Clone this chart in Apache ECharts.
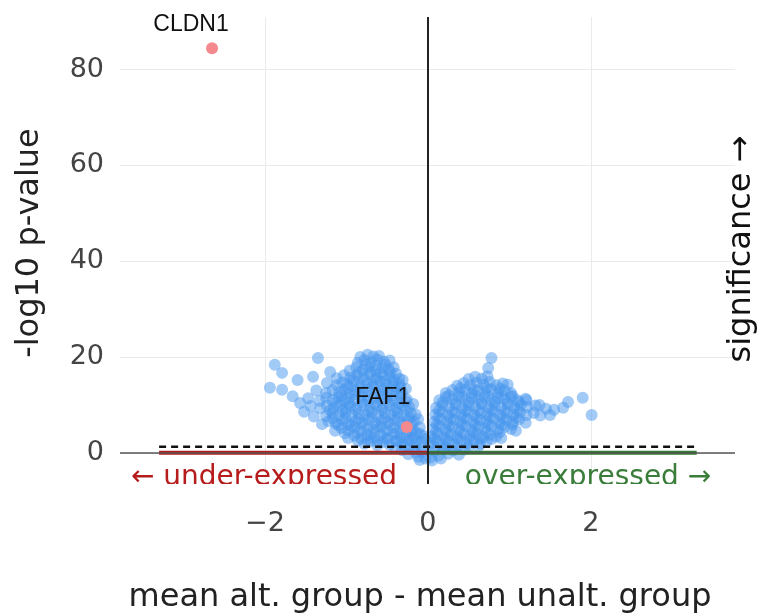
<!DOCTYPE html>
<html>
<head>
<meta charset="utf-8">
<script src="https://cdn.jsdelivr.net/npm/echarts@6/dist/echarts.min.js"></script>
<style>
  html, body { margin: 0; padding: 0; background: #fff; }
  #chart { width: 759px; height: 614px; }
</style>
</head>
<body>
<div id="chart"></div>
<script>
// axes
const xTicks = [-2, 0, 2];
const yTicks = [0, 20, 40, 60, 80];
const xRange = [-3.78, 3.77];
const yRange = [-6.5, 91];

// -log10(0.05) threshold and reach of the coloured guide lines
const threshold = 1.3;
const guideSpan = [-3.3, 3.3];

// highlighted genes
const hitGenes = ['CLDN1', 'FAF1'];
const hitX = [-2.65, -0.26];
const hitY = [84.5, 5.4];

// remaining genes, left of zero: [mean diff, -log10 p]
const leftGenes = [
  [-0.32,0.6],[-0.24,-0.3],[-0.18,0.9],[-0.12,-0.8],[-0.07,0.2],[-0.03,-1.2],[-0.28,1.4],[-0.15,0.1],[-0.05,1.1],[-0.40,1.0],[-0.10,-1.5],
  [-0.78,1.9],[-0.70,2.4],[-0.62,1.6],[-0.55,2.2],[-0.47,1.7],[-0.39,2.5],[-0.31,1.9],[-0.23,2.6],[-0.16,1.8],[-0.08,2.3],[-0.03,2.9],
  [-0.86,2.6],[-0.74,2.7],[-0.62,2.5],[-0.50,2.8],[-0.38,2.6],[-0.26,2.9],[-0.14,2.7],
  [-0.98,3.1],[-0.90,3.6],[-0.82,3.0],[-0.74,3.8],[-0.66,3.2],[-0.58,3.7],[-0.50,3.1],[-0.42,3.9],[-0.34,3.3],[-0.26,3.8],[-0.18,3.2],[-0.10,4.0],[-0.05,3.5],
  [-1.02,4.1],[-0.86,4.2],[-0.70,4.0],[-0.54,4.3],[-0.38,4.1],[-0.22,4.4],[-0.14,4.1],
  [-1.14,4.6],[-1.06,5.2],[-0.98,4.7],[-0.90,5.3],[-0.82,4.6],[-0.74,5.1],[-0.66,4.8],[-0.58,5.4],[-0.50,4.7],[-0.42,5.2],[-0.34,4.9],[-0.26,5.5],[-0.18,4.8],[-0.10,5.3],
  [-1.10,5.8],[-0.94,5.6],[-0.78,5.9],[-0.62,5.6],[-0.46,5.9],[-0.30,5.7],[-0.20,6.0],
  [-1.30,6.0],[-1.22,6.6],[-1.13,6.2],[-1.05,6.8],[-0.97,6.1],[-0.89,6.6],[-0.81,6.3],[-0.73,6.9],[-0.65,6.2],[-0.57,6.7],[-0.49,6.4],[-0.41,6.9],[-0.33,6.3],[-0.25,6.8],[-0.17,6.5],[-0.12,7.0],
  [-1.17,7.2],[-1.01,7.3],[-0.85,7.1],[-0.69,7.4],[-0.53,7.2],[-0.37,7.4],[-0.23,7.3],
  [-1.40,7.6],[-1.25,7.7],[-1.17,8.3],[-1.09,7.8],[-1.01,8.4],[-0.93,7.7],[-0.85,8.2],[-0.77,7.9],[-0.69,8.5],[-0.61,7.8],[-0.53,8.3],[-0.45,7.9],[-0.37,8.4],[-0.29,7.8],[-0.21,8.3],[-0.15,8.0],
  [-1.20,8.9],[-1.05,8.8],[-0.89,9.0],[-0.73,8.7],[-0.57,9.0],[-0.41,8.8],[-0.27,9.1],
  [-1.44,9.8],[-1.32,9.3],[-1.24,9.9],[-1.16,9.4],[-1.08,10.0],[-1.01,9.3],[-0.95,9.8],[-0.87,9.5],[-0.79,10.1],[-0.71,9.4],[-0.63,9.9],[-0.55,9.5],[-0.47,10.0],[-0.39,9.4],[-0.31,9.9],[-0.23,9.6],[-0.18,10.2],
  [-1.12,10.5],[-0.97,10.4],[-0.81,10.6],[-0.65,10.3],[-0.49,10.6],[-0.35,10.4],[-0.27,10.7],
  [-1.47,11.4],[-1.33,10.9],[-1.25,11.5],[-1.17,11.0],[-1.10,11.6],[-1.03,10.9],[-0.97,11.4],[-0.90,11.1],[-0.82,11.7],[-0.74,11.0],[-0.66,11.5],[-0.58,11.1],[-0.50,11.6],[-0.42,11.0],[-0.34,11.5],[-0.26,11.2],
  [-1.06,12.0],[-0.90,12.2],[-0.74,11.9],[-0.58,12.2],[-0.44,12.0],[-0.34,12.3],
  [-1.37,13.0],[-1.25,12.5],[-1.17,13.1],[-1.09,12.6],[-1.02,13.2],[-0.96,12.5],[-0.88,13.0],[-0.80,12.7],[-0.72,13.3],[-0.64,12.6],[-0.56,13.1],[-0.48,12.7],[-0.40,13.2],[-0.32,12.6],[-0.27,13.4],
  [-0.98,13.7],[-0.84,13.5],[-0.68,13.8],[-0.54,13.6],[-0.42,13.9],[-0.34,13.7],
  [-1.24,14.6],[-1.12,14.1],[-1.05,14.7],[-0.99,14.2],[-0.91,14.8],[-0.83,14.1],[-0.75,14.6],[-0.67,14.3],[-0.59,14.9],[-0.51,14.2],[-0.43,14.7],[-0.35,14.4],[-0.31,15.2],
  [-0.92,15.2],[-0.78,15.1],[-0.64,15.3],[-0.52,15.0],[-0.42,15.3],
  [-1.12,15.6],[-1.03,16.2],[-0.95,15.7],[-0.87,16.3],[-0.79,15.8],[-0.71,16.4],[-0.63,15.7],[-0.55,16.2],[-0.47,15.9],[-0.39,16.5],[-0.35,15.5],
  [-0.84,16.8],[-0.70,16.9],[-0.58,16.7],[-0.46,16.9],
  [-0.96,17.2],[-0.88,17.8],[-0.80,17.3],[-0.72,17.9],[-0.64,17.2],[-0.56,17.7],[-0.48,17.4],[-0.42,17.9],
  [-0.76,18.4],[-0.64,18.2],[-0.52,18.4],
  [-0.86,18.8],[-0.78,19.4],[-0.70,18.9],[-0.62,19.5],[-0.54,19.0],[-0.47,19.3],
  [-0.83,20.0],[-0.67,20.1],[-0.74,20.5],[-0.60,20.2],
  [-1.35,19.8],[-1.88,18.4],[-1.79,16.7],[-1.94,13.6],[-1.79,13.2],[-1.60,15.2],[-1.41,15.9],[-1.57,10.4],[-1.20,16.9],[-1.66,11.8],[-1.52,8.6]
];

// remaining genes, right of zero
const rightGenes = [
  [0.03,-1.0],[0.08,0.4],[0.13,-0.6],[0.19,0.8],[0.25,-0.2],[0.31,0.5],[0.38,-0.4],[0.45,0.7],[0.05,-1.6],[0.16,-1.2],
  [0.08,1.3],[0.22,1.1],[0.36,1.3],[0.50,1.2],[0.62,1.4],
  [0.04,2.0],[0.11,2.5],[0.18,1.8],[0.25,2.4],[0.32,1.9],[0.40,2.6],[0.48,2.0],[0.56,2.5],[0.64,1.9],[0.72,2.4],
  [0.08,2.9],[0.22,2.8],[0.36,3.0],[0.50,2.8],[0.64,3.0],[0.78,2.9],
  [0.05,3.4],[0.12,3.9],[0.20,3.3],[0.28,3.8],[0.36,3.4],[0.44,4.0],[0.52,3.5],[0.60,3.9],[0.68,3.3],[0.76,3.8],[0.84,3.4],[0.90,3.1],
  [0.10,4.4],[0.24,4.2],[0.40,4.4],[0.56,4.3],[0.72,4.5],[0.88,4.3],
  [0.07,5.0],[0.14,5.5],[0.22,4.9],[0.30,5.4],[0.38,5.0],[0.46,5.6],[0.54,4.9],[0.62,5.4],[0.70,5.1],[0.78,5.6],[0.86,4.9],[0.94,5.4],[1.02,5.0],[1.08,4.6],
  [0.11,5.9],[0.26,5.7],[0.42,5.9],[0.58,5.8],[0.74,6.0],[0.90,5.8],[1.04,5.9],
  [0.08,6.5],[0.16,7.0],[0.24,6.4],[0.32,6.9],[0.40,6.5],[0.48,7.1],[0.56,6.4],[0.64,6.9],[0.72,6.6],[0.80,7.1],[0.88,6.4],[0.96,6.9],[1.04,6.5],[1.12,7.0],[1.20,6.3],
  [0.13,7.4],[0.28,7.2],[0.44,7.4],[0.60,7.3],[0.76,7.5],[0.92,7.3],[1.08,7.4],
  [0.09,8.0],[0.17,8.5],[0.25,7.9],[0.33,8.4],[0.41,8.0],[0.49,8.6],[0.57,7.9],[0.65,8.4],[0.73,8.1],[0.81,8.6],[0.89,7.9],[0.97,8.4],[1.05,8.0],[1.13,8.5],[1.21,7.9],[1.30,8.3],[1.38,7.8],
  [0.14,8.9],[0.30,8.7],[0.46,8.9],[0.62,8.8],[0.78,9.0],[0.94,8.8],[1.10,9.0],
  [0.10,9.4],[0.18,10.0],[0.26,9.5],[0.34,10.1],[0.42,9.4],[0.50,9.9],[0.58,9.6],[0.66,10.2],[0.74,9.5],[0.82,10.0],[0.90,9.6],[0.98,10.1],[1.06,9.5],[1.14,10.0],[1.22,9.6],[1.32,9.9],
  [0.18,10.5],[0.34,10.3],[0.50,10.5],[0.66,10.4],[0.82,10.6],[0.98,10.4],[1.12,10.6],
  [0.14,11.0],[0.22,11.6],[0.30,11.1],[0.38,11.7],[0.46,11.0],[0.54,11.5],[0.62,11.1],[0.70,11.7],[0.78,11.0],[0.86,11.5],[0.94,11.2],[1.02,11.7],[1.10,11.0],[1.20,11.3],
  [0.26,12.0],[0.42,11.8],[0.58,12.0],[0.74,11.9],[0.90,12.1],[1.04,11.9],
  [0.22,12.5],[0.30,13.1],[0.38,12.6],[0.46,13.2],[0.54,12.5],[0.62,13.0],[0.70,12.7],[0.78,13.3],[0.86,12.6],[0.94,13.0],[1.02,12.5],
  [0.40,13.5],[0.56,13.3],[0.72,13.6],[0.88,13.4],
  [0.36,14.0],[0.44,14.6],[0.52,14.1],[0.60,14.7],[0.68,14.2],[0.76,14.8],[0.84,14.1],[0.92,14.5],
  [0.50,15.4],[0.58,15.9],[0.66,15.5],[0.73,16.0],
  [0.78,19.8],[0.74,17.7],[0.98,14.2],[1.90,11.5],[1.72,10.6],[1.66,9.4],[2.01,7.9],[1.50,7.9],[1.37,10.0],[1.21,11.0],[1.55,9.0],[1.45,9.2]
];

const tickFont = 'DejaVu Sans';
const minus = v => (v < 0 ? '\u2212' + Math.abs(v) : String(v));

const chart = echarts.init(document.getElementById('chart'), null, { renderer: 'canvas' });

chart.setOption({
  animation: false,
  backgroundColor: '#fff',
  grid: { left: 120, right: 24, top: 17, bottom: 130, containLabel: false },
  xAxis: {
    type: 'value',
    min: xRange[0],
    max: xRange[1],
    axisLine: { show: false },
    axisTick: { show: false, customValues: xTicks },
    axisLabel: {
      customValues: xTicks,
      formatter: minus,
      fontFamily: tickFont,
      fontSize: 27,
      color: '#444',
      margin: 26
    },
    splitLine: { show: true, lineStyle: { color: '#ebebeb', width: 1 } }
  },
  yAxis: {
    type: 'value',
    min: yRange[0],
    max: yRange[1],
    axisLine: { show: false },
    axisTick: { show: false, customValues: yTicks },
    axisLabel: {
      customValues: yTicks,
      fontFamily: tickFont,
      fontSize: 27,
      color: '#444',
      margin: 16
    },
    splitLine: { show: true, lineStyle: { color: '#ebebeb', width: 1 } }
  },
  series: [
    {
      // zero lines
      type: 'line',
      data: [],
      z: 1,
      silent: true,
      markLine: {
        silent: true,
        symbol: 'none',
        label: { show: false },
        animation: false,
        data: [
          { yAxis: 0, lineStyle: { color: '#555', width: 1.5, type: 'solid' } },
          { xAxis: 0, lineStyle: { color: '#222', width: 2, type: 'solid' } }
        ]
      }
    },
    {
      type: 'scatter',
      data: leftGenes.concat(rightGenes),
      symbolSize: 12,
      z: 2,
      itemStyle: { color: '#4696ee', opacity: 0.5 },
      silent: true
    },
    {
      type: 'line',
      data: [[guideSpan[0], threshold], [guideSpan[1], threshold]],
      symbol: 'none',
      z: 3,
      lineStyle: { color: '#111', width: 2.5, type: [7, 5] }
    },
    {
      type: 'line',
      data: [[guideSpan[0], 0], [0, 0]],
      symbol: 'none',
      z: 3,
      lineStyle: { color: '#b71c1c', width: 4 }
    },
    {
      type: 'line',
      data: [[0, 0], [guideSpan[1], 0]],
      symbol: 'none',
      z: 3,
      lineStyle: { color: '#2e7d32', width: 4 }
    },
    {
      type: 'scatter',
      z: 4,
      symbolSize: 12,
      itemStyle: { color: '#f58a8e', opacity: 1 },
      data: hitGenes.map((g, i) => ({ name: g, value: [hitX[i], hitY[i]] })),
      label: {
        show: true,
        position: 'inside',
        formatter: p => p.name,
        fontFamily: 'Liberation Sans',
        fontSize: 23,
        color: '#111'
      },
      labelLayout: p => (p.dataIndex === 0 ? { dx: -21, dy: -23 } : { dx: -24, dy: -29 })
    }
  ],
  graphic: [
    {
      type: 'text', z: 100, x: 30, y: 243, rotation: Math.PI / 2,
      style: { text: '-log10 p-value', font: '32px "DejaVu Sans"', fill: '#222', align: 'center', verticalAlign: 'middle' }
    },
    {
      type: 'text', z: 100, x: 742, y: 249, rotation: Math.PI / 2,
      style: { text: 'significance \u2192', font: '32px "DejaVu Sans"', fill: '#111', align: 'center', verticalAlign: 'middle' }
    },
    {
      type: 'text', z: 100, x: 420, y: 598,
      style: { text: 'mean alt. group - mean unalt. group', font: '32px "DejaVu Sans"', fill: '#222', align: 'center', verticalAlign: 'middle' }
    },
    {
      type: 'text', z: 100, x: 264, y: 478,
      style: { text: '\u2190 under-expressed', font: '28px "DejaVu Sans"', fill: '#b71c1c', align: 'center', verticalAlign: 'middle' }
    },
    {
      type: 'text', z: 100, x: 588, y: 478,
      style: { text: 'over-expressed \u2192', font: '28px "DejaVu Sans"', fill: '#3a7d3a', align: 'center', verticalAlign: 'middle' }
    },
    {
      // plot area clips the bottom of the two labels
      type: 'rect', z: 101, shape: { x: 0, y: 484, width: 759, height: 21 },
      style: { fill: '#fff' }
    }
  ]
});
</script>
</body>
</html>
